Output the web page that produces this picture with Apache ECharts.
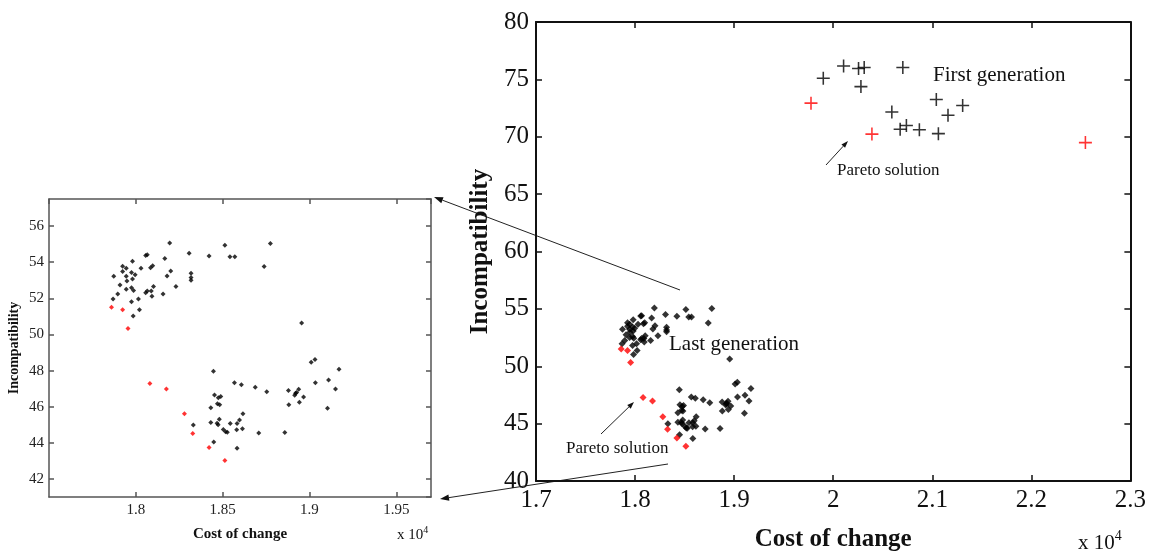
<!DOCTYPE html>
<html>
<head>
<meta charset="utf-8">
<script src="https://cdn.jsdelivr.net/npm/echarts@6/dist/echarts.min.js"></script>
<style>
html, body { margin: 0; padding: 0; background: #fff; }
#main { width: 1149px; height: 557px; }
</style>
</head>
<body>
<div id="main"></div>
<script>
// cost of change (x 10^4) and incompatibility
var lastGenX = [1.7873, 1.7869, 1.7896, 1.7909, 1.7924, 1.7924, 1.7945, 1.7945, 1.7949, 1.7945,
	1.7975, 1.7981, 1.7981, 1.7996, 1.7975, 1.7987, 1.7975, 1.7985, 1.8015, 1.8021,
	1.8030, 1.8057, 1.8066, 1.8057, 1.8066, 1.8085, 1.8097, 1.8089, 1.8093, 1.8102,
	1.8167, 1.8180, 1.8201, 1.8157, 1.8195, 1.8231, 1.8307, 1.8318, 1.8318, 1.8318,
	1.8422, 1.8513, 1.8542, 1.8570, 1.8739, 1.8775, 1.8955, 1.9010, 1.9032, 1.9170,
	1.8447, 1.8568, 1.8608, 1.8688, 1.8754, 1.8453, 1.8489, 1.8475, 1.8470, 1.8483,
	1.8432, 1.8432, 1.8481, 1.8468, 1.8474, 1.8544, 1.8504, 1.8517, 1.8527, 1.8583,
	1.8597, 1.8617, 1.8581, 1.8614, 1.8708, 1.8449, 1.8583, 1.8331, 1.8858, 1.8879,
	1.8881, 1.8915, 1.8926, 1.8938, 1.8920, 1.8942, 1.8966, 1.9034, 1.9110, 1.9150,
	1.9104];
var lastGenY = [53.22, 51.96, 52.24, 52.74, 53.78, 53.48, 53.67, 53.22, 52.96, 52.50,
	53.43, 54.06, 53.07, 53.31, 52.59, 52.44, 51.81, 51.02, 51.96, 51.37,
	53.67, 54.37, 54.41, 52.31, 52.41, 53.70, 53.80, 52.41, 52.11, 52.65,
	54.20, 53.24, 53.52, 52.24, 55.07, 52.65, 54.50, 53.39, 53.15, 53.00,
	54.35, 54.94, 54.30, 54.30, 53.76, 55.04, 50.63, 48.46, 48.61, 48.07,
	47.96, 47.33, 47.22, 47.07, 46.83, 46.65, 46.57, 46.50, 46.17, 46.11,
	45.94, 45.13, 45.31, 45.09, 45.00, 45.07, 44.74, 44.61, 44.59, 45.07,
	45.26, 45.61, 44.72, 44.78, 44.54, 44.04, 43.70, 44.98, 44.57, 46.89,
	46.11, 46.63, 46.78, 46.96, 46.74, 46.24, 46.54, 47.33, 47.48, 46.98,
	45.91];
var lastParetoX = [1.7860, 1.7924, 1.7955, 1.8081, 1.8176, 1.8280, 1.8328, 1.8422, 1.8513];
var lastParetoY = [51.50, 51.37, 50.33, 47.28, 46.98, 45.61, 44.52, 43.74, 43.02];

var firstGenX = [1.9900, 2.0105, 2.0256, 2.0313, 2.0280, 2.0703, 2.0592, 2.0676, 2.0739, 2.0870,
	2.1062, 2.1041, 2.1159, 2.1307];
var firstGenY = [75.09, 76.17, 75.94, 76.03, 74.37, 76.03, 72.16, 70.66, 70.98, 70.61,
	70.27, 73.24, 71.87, 72.73];
var firstParetoX = [1.9776, 2.0391, 2.2546];
var firstParetoY = [72.93, 70.23, 69.49];

var mainXTicks = [1.7, 2.3, 0.1];
var mainYTicks = [40, 80, 5];
var insetXTicks = [1.75, 1.97, 0.05];
var insetYTicks = [41, 57.5];

function pairs(xs, ys) {
	var out = [];
	for (var i = 0; i < xs.length; i++) out.push([xs[i], ys[i]]);
	return out;
}

var serif = 'Liberation Serif';
var plusPath = 'path://M4.4,0h1.2v4.4h4.4v1.2h-4.4v4.4h-1.2v-4.4h-4.4v-1.2h4.4z';

function arrow(x1, y1, x2, y2, head) {
	var a = Math.atan2(y2 - y1, x2 - x1);
	var h = head || 8, w = h * 0.35;
	var bx = x2 - h * Math.cos(a), by = y2 - h * Math.sin(a);
	return [
		{ type: 'line', shape: { x1: x1, y1: y1, x2: bx, y2: by }, style: { stroke: '#222', lineWidth: 1 } },
		{ type: 'polygon', shape: { points: [[x2, y2],
			[bx + w * Math.sin(a), by - w * Math.cos(a)],
			[bx - w * Math.sin(a), by + w * Math.cos(a)]] }, style: { fill: '#111' } }
	];
}

function boxAxis(gridIndex, pos, rng, isX, len) {
	var ax = {
		type: 'value', gridIndex: gridIndex, position: pos,
		min: rng[0], max: rng[1],
		axisLine: { show: true, onZero: false, lineStyle: { color: gridIndex === 0 ? '#555' : '#111', width: gridIndex === 0 ? 1.5 : 2 } },
		axisTick: { show: true, inside: true, length: len, lineStyle: { color: gridIndex === 0 ? '#555' : '#111', width: 1.5 } },
		axisLabel: { show: false },
		splitLine: { show: false }
	};
	if (rng.length > 2) ax.interval = rng[2];
	else ax.splitNumber = 8;
	return ax;
}

var chart = echarts.init(document.getElementById('main'));

var insetX = boxAxis(0, 'bottom', insetXTicks, true, 5);
insetX.axisLabel = { show: true, showMinLabel: false, showMaxLabel: false, margin: 6,
	fontFamily: serif, fontSize: 15, color: '#222' };
insetX.name = 'Cost of change';
insetX.nameLocation = 'middle';
insetX.nameGap = 30;
insetX.nameTextStyle = { fontFamily: serif, fontSize: 15, fontWeight: 'bold', color: '#111' };

var insetY = boxAxis(0, 'left', insetYTicks, false, 5);
insetY.axisLabel = { show: true, showMinLabel: false, showMaxLabel: false, margin: 5,
	fontFamily: serif, fontSize: 15, color: '#222' };
insetY.name = 'Incompatibility';
insetY.nameLocation = 'middle';
insetY.nameGap = 28;
insetY.nameTextStyle = { fontFamily: serif, fontSize: 14, fontWeight: 'bold', color: '#111' };

var mainX = boxAxis(1, 'bottom', mainXTicks, true, 6);
mainX.axisLabel = { show: true, margin: 7, fontFamily: serif, fontSize: 25, color: '#111' };
mainX.name = 'Cost of change';
mainX.nameLocation = 'middle';
mainX.nameGap = 46;
mainX.nameTextStyle = { fontFamily: serif, fontSize: 25, fontWeight: 'bold', color: '#111' };

var mainY = boxAxis(1, 'left', mainYTicks, false, 6);
mainY.axisLabel = { show: true, margin: 7, fontFamily: serif, fontSize: 25, color: '#111' };
mainY.name = 'Incompatibility';
mainY.nameLocation = 'middle';
mainY.nameGap = 40;
mainY.nameTextStyle = { fontFamily: serif, fontSize: 25, fontWeight: 'bold', color: '#111' };

var option = {
	animation: false,
	backgroundColor: '#fff',
	grid: [
		{ left: 49, top: 199, width: 382, height: 298 },
		{ left: 536, top: 22, width: 596, height: 465 }
	],
	xAxis: [insetX, mainX, boxAxis(0, 'top', insetXTicks, true, 5), boxAxis(1, 'top', mainXTicks, true, 6)],
	yAxis: [insetY, mainY, boxAxis(0, 'right', insetYTicks, false, 5), boxAxis(1, 'right', mainYTicks, false, 6)],
	series: [
		{ name: 'Last generation', type: 'scatter', xAxisIndex: 0, yAxisIndex: 0,
			symbol: 'diamond', symbolSize: 5, itemStyle: { color: '#000' }, data: pairs(lastGenX, lastGenY) },
		{ name: 'Pareto solution', type: 'scatter', xAxisIndex: 0, yAxisIndex: 0,
			symbol: 'diamond', symbolSize: 5, itemStyle: { color: '#f00' }, data: pairs(lastParetoX, lastParetoY) },
		{ name: 'Last generation', type: 'scatter', xAxisIndex: 1, yAxisIndex: 1,
			symbol: 'diamond', symbolSize: 7, itemStyle: { color: '#000' }, data: pairs(lastGenX, lastGenY) },
		{ name: 'Pareto solution', type: 'scatter', xAxisIndex: 1, yAxisIndex: 1,
			symbol: 'diamond', symbolSize: 7, itemStyle: { color: '#f00' }, data: pairs(lastParetoX, lastParetoY) },
		{ name: 'First generation', type: 'scatter', xAxisIndex: 1, yAxisIndex: 1,
			symbol: plusPath, symbolSize: 13, itemStyle: { color: '#000' }, data: pairs(firstGenX, firstGenY) },
		{ name: 'Pareto solution', type: 'scatter', xAxisIndex: 1, yAxisIndex: 1,
			symbol: plusPath, symbolSize: 13, itemStyle: { color: '#f00' }, data: pairs(firstParetoX, firstParetoY) }
	],
	graphic: [].concat(
		arrow(680, 290, 434, 197, 9),
		arrow(668, 464, 440, 499, 9),
		arrow(826, 165, 848, 141, 7),
		arrow(601, 434, 634, 402, 7),
		[
			{ type: 'text', left: 933, top: 65, style: { text: 'First generation', font: '21px "Liberation Serif"', fill: '#111' } },
			{ type: 'text', left: 669, top: 334, style: { text: 'Last generation', font: '21px "Liberation Serif"', fill: '#111' } },
			{ type: 'text', left: 837, top: 162, style: { text: 'Pareto solution', font: '17px "Liberation Serif"', fill: '#111' } },
			{ type: 'text', left: 566, top: 440, style: { text: 'Pareto solution', font: '17px "Liberation Serif"', fill: '#111' } },
			{ type: 'text', left: 1078, top: 529, style: { text: 'x 10{s|4}', font: '21px "Liberation Serif"', fill: '#111',
				rich: { s: { fontSize: 14, fontFamily: serif, padding: [0, 0, 14, 0] } } } },
			{ type: 'text', left: 397, top: 525, style: { text: 'x 10{s|4}', font: '15px "Liberation Serif"', fill: '#111',
				rich: { s: { fontSize: 10, fontFamily: serif, padding: [0, 0, 10, 0] } } } }
		]
	)
};
chart.setOption(option);
</script>
</body>
</html>
